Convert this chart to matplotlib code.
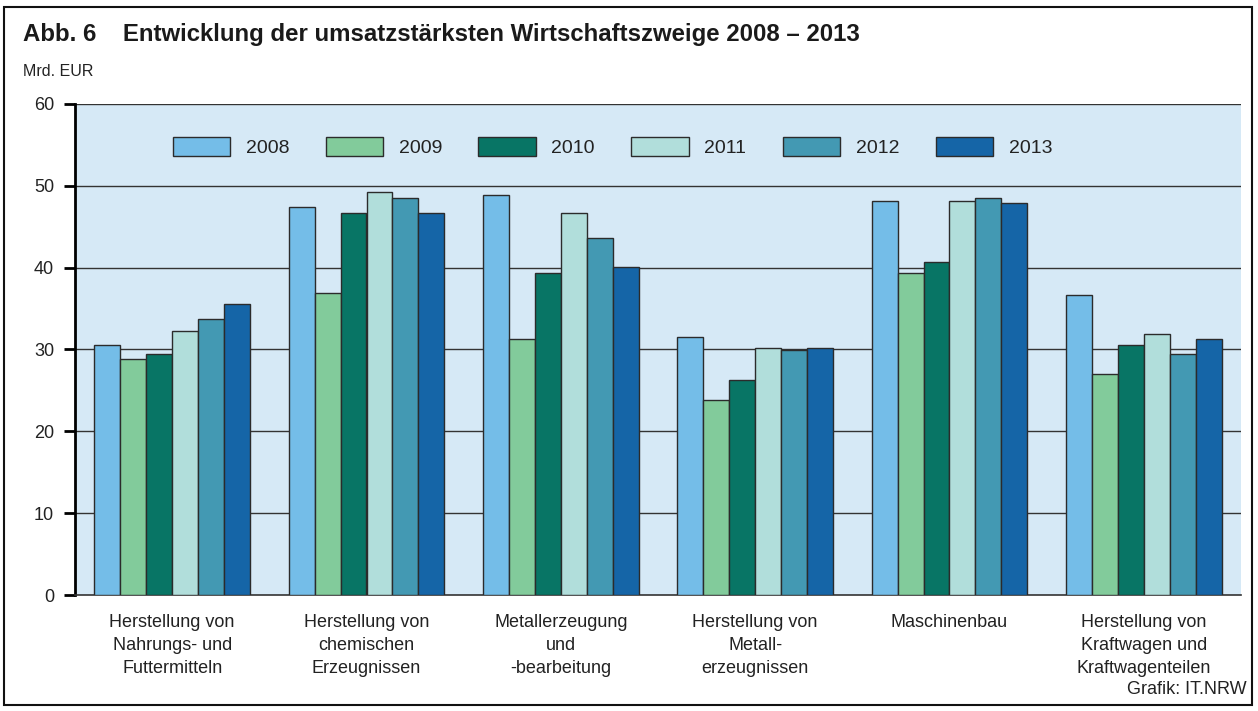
import matplotlib
matplotlib.use("Agg")
import matplotlib.pyplot as plt
import numpy as np
from matplotlib.patches import Rectangle

plt.rcParams['font.family'] = ['Liberation Sans', 'DejaVu Sans']

categories = ["Herstellung von\nNahrungs- und\nFuttermitteln",
              "Herstellung von\nchemischen\nErzeugnissen",
              "Metallerzeugung\nund\n-bearbeitung",
              "Herstellung von\nMetall-\nerzeugnissen",
              "Maschinenbau",
              "Herstellung von\nKraftwagen und\nKraftwagenteilen"]
years = ["2008", "2009", "2010", "2011", "2012", "2013"]
v2008 = [30.5, 47.4, 48.9, 31.5, 48.2, 36.6]
v2009 = [28.8, 36.9, 31.3, 23.8, 39.4, 27.0]
v2010 = [29.5, 46.7, 39.4, 26.3, 40.7, 30.6]
v2011 = [32.3, 49.3, 46.7, 30.2, 48.2, 31.9]
v2012 = [33.7, 48.5, 43.6, 29.9, 48.5, 29.5]
v2013 = [35.5, 46.7, 40.1, 30.2, 47.9, 31.3]
series = [v2008, v2009, v2010, v2011, v2012, v2013]
colors = ["#74BDE8", "#82CB9B", "#087565", "#B1DEDB", "#4399B3", "#1565A7"]
yticks = [0, 10, 20, 30, 40, 50, 60]

W, H = 1258, 711
fig = plt.figure(figsize=(W/100, H/100), dpi=100)
ax = fig.add_axes([75/W, 1-595/H, (1241-75)/W, (595-104)/H])
ax.set_facecolor("#D6E9F6")

x = np.arange(len(categories))
bw = 0.8/6
for i, (vals, c, yr) in enumerate(zip(series, colors, years)):
    ax.bar(x - 0.4 + bw*(i+0.5), vals, width=bw, color=c, edgecolor="#2b2b2b",
           linewidth=1.0, label=yr, zorder=3)

ax.set_xlim(-0.5, len(categories)-0.5)
ax.set_ylim(0, 60)
ax.set_yticks(yticks)
ax.set_yticklabels([str(t) for t in yticks], fontsize=13, color="#222222")
for t in yticks[1:]:
    ax.axhline(t, color="#333333", linewidth=1.0, zorder=1)
ax.set_xticks(x)
ax.set_xticklabels(categories, fontsize=13, color="#222222", linespacing=1.43)
ax.tick_params(axis='x', length=0, pad=14)
ax.tick_params(axis='y', length=8, width=2.0, direction='out', pad=7)
for s in ['top', 'right']:
    ax.spines[s].set_visible(False)
ax.spines['left'].set_linewidth(2.0)
ax.spines['left'].set_color('black')
ax.spines['bottom'].set_linewidth(1.2)
ax.spines['bottom'].set_color('#333333')

leg = ax.legend(loc='upper left', bbox_to_anchor=(84/1166, 1 - 19/491), ncol=6,
                frameon=False, fontsize=14, handlelength=2.94, handleheight=1.12,
                handletextpad=0.81, columnspacing=1.88, borderpad=0.2)
for t in leg.get_texts():
    t.set_color("#222222")

fig.text(23/W, 1-35/H, "Abb. 6    Entwicklung der umsatzstärksten Wirtschaftszweige 2008 – 2013",
         fontsize=17.3, fontweight='bold', color="#1a1a1a", va='center', ha='left')
fig.text(23/W, 1-72/H, "Mrd. EUR", fontsize=11.5, color="#222222", va='center', ha='left')
fig.text(1247/W, 1-690/H, "Grafik: IT.NRW", fontsize=13, color="#222222", va='center', ha='right')

fig.patches.append(Rectangle((4/W, 1-705/H), (1252-4)/W, (705-7)/H, transform=fig.transFigure,
                             fill=False, edgecolor='#111111', linewidth=1.5))

fig.savefig("out.png", dpi=100)
